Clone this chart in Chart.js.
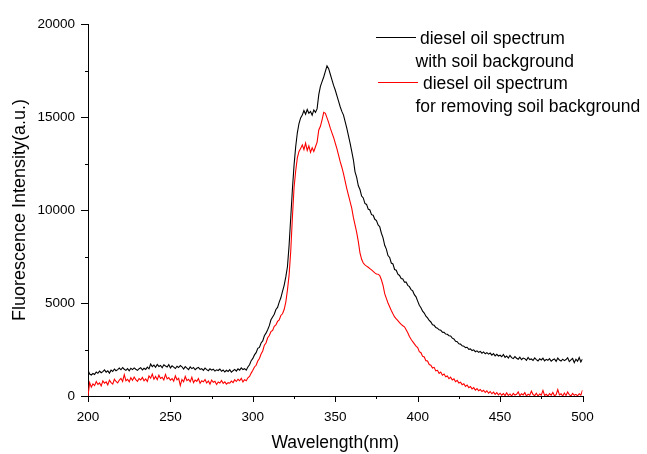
<!DOCTYPE html>
<html lang="en">
<head>
  <meta charset="UTF-8">
  <title>Diesel oil fluorescence spectrum</title>
  <script src="https://cdn.jsdelivr.net/npm/chart.js"></script>
  <style>
    body {
      margin: 0;
      background: #fff;
      font-family: 'Liberation Sans', Arial, sans-serif;
    }
    #wrap {
      width: 647px;
      height: 454px;
    }
  </style>
</head>
<body>
  <div id="wrap">
    <canvas id="spectrum" width="647" height="454"></canvas>
  </div>

  <script>
    // sampling grid, 1 nm from 200 to 500
    const wavelengths = Array.from({ length: 301 }, (_, i) => 200 + i);

    // diesel oil spectrum with soil background (one row = 10 nm)
    const withSoil = [
      1380, 1180, 1130, 1210, 1160, 1290, 1220, 1340, 1250, 1310,
      1400, 1280, 1350, 1230, 1390, 1320, 1450, 1360, 1420, 1500,
      1410, 1530, 1440, 1380, 1470, 1350, 1490, 1420, 1510, 1440,
      1380, 1470, 1520, 1400, 1490, 1430, 1550, 1460, 1720, 1580,
      1660, 1540, 1700, 1590, 1640, 1520, 1680, 1610, 1560, 1690,
      1510, 1620, 1550, 1480, 1600, 1530, 1640, 1570, 1450, 1580,
      1500, 1420, 1560, 1470, 1530, 1410, 1490, 1540, 1430, 1470,
      1380, 1500, 1420, 1360, 1460, 1390, 1440, 1340, 1410, 1370,
      1450, 1330, 1400, 1290, 1380, 1320, 1420, 1280, 1360, 1430,
      1340, 1460, 1390, 1510, 1420, 1470, 1390, 1560, 1680, 1900,
      2020, 2210, 2330, 2560, 2610, 2850, 2960, 3240, 3380, 3560,
      3780, 4100, 4250, 4400, 4650, 4760, 5050, 5280, 5620, 5950,
      6400, 6950, 8100, 9600, 11100, 12400, 13400, 14150, 14650, 14950,
      15100, 15350, 15150, 15400, 15200, 15300, 15100, 15380, 15250, 15450,
      16200, 16650, 16900, 17150, 17450, 17750, 17600, 17300, 17000, 16700,
      16450, 16150, 15850, 15550, 15300, 15100, 14750, 14400, 14000, 13600,
      13150, 12700, 12050, 11750, 11300, 11100, 10750, 10650, 10350, 10300,
      10050, 10000, 9750, 9720, 9500, 9430, 9200, 9100, 8750, 8500,
      8100, 7900, 7550, 7450, 7150, 7100, 6800, 6760, 6550, 6480,
      6320, 6290, 6120, 6130, 5950, 5880, 5720, 5650, 5450, 5330,
      5100, 4880, 4750, 4560, 4460, 4290, 4200, 4060, 3980, 3830,
      3800, 3680, 3650, 3560, 3540, 3430, 3420, 3330, 3320, 3240,
      3230, 3110, 3070, 2940, 2920, 2810, 2790, 2700, 2680, 2600,
      2620, 2510, 2530, 2440, 2480, 2380, 2430, 2350, 2400, 2300,
      2370, 2270, 2330, 2250, 2310, 2200, 2280, 2160, 2240, 2150,
      2190, 2110, 2230, 2080, 2150, 2040, 2180, 2060, 2010, 2120,
      2030, 1980, 2090, 1950, 2040, 2010, 1920, 2070, 1960, 1990,
      1910, 2050, 1960, 1880, 2000, 1940, 2030, 1890, 1970, 1920,
      2010, 1870, 1950, 1990, 1860, 2040, 1930, 1880, 1980, 1900,
      1960, 2060, 1850, 1940, 2020, 1790, 1980, 1870, 2070, 1830,
      1990
    ];

    // diesel oil spectrum after removing the soil background
    const soilRemoved = [
      0, 720, 480, 650, 560, 780, 620, 700, 540, 810,
      690, 760, 600, 850, 720, 640, 900, 780, 700, 860,
      950, 780, 1150, 820, 900, 760, 980, 840, 1020, 880,
      790, 940, 860, 1000, 820, 920, 780, 1080, 960, 1180,
      900, 1050, 880, 1120, 940, 1010, 860, 1160, 920, 990,
      850, 940, 800, 1080, 870, 950, 560, 890, 760, 1050,
      830, 900, 760, 1010, 720, 860, 790, 940, 680, 820,
      760, 880, 700, 810, 640, 860, 740, 790, 620, 750,
      700, 830, 680, 760, 640, 720, 690, 800, 720, 880,
      780, 900, 820, 950, 760, 880, 820, 980, 1050, 1230,
      1380, 1560, 1650, 1880, 2020, 2260, 2420, 2730, 2850, 3130,
      3250, 3460, 3530, 3750, 3820, 4010, 4090, 4330, 4420, 4650,
      5050, 5700, 6500, 7800, 9600, 11200, 12100, 12800, 13150, 13300,
      13500, 13250, 13600, 13200, 13450, 13100, 13350, 13150, 13400, 13650,
      14300, 14500, 14850, 15250, 15200, 14950, 14700, 14400, 14150, 13900,
      13600, 13300, 12950, 12600, 12300, 11950, 11550, 11150, 10800, 10450,
      10100, 9600, 9200, 8800, 8300, 7700, 7350, 7150, 7050, 6980,
      6920, 6850, 6780, 6700, 6620, 6560, 6550, 6480, 6250, 5950,
      5500, 5250, 5000, 4800, 4600, 4420, 4250, 4150, 4050, 3950,
      3850, 3780, 3720, 3560, 3400, 3200, 3050, 2920, 2800, 2680,
      2600, 2380, 2330, 2130, 2100, 1900, 1880, 1690, 1660, 1500,
      1540, 1350, 1380, 1220, 1290, 1120, 1180, 1030, 1080, 930,
      1010, 860, 920, 770, 840, 700, 740, 610, 660, 520,
      590, 450, 510, 380, 450, 320, 400, 280, 350, 240,
      310, 190, 280, 150, 240, 120, 210, 90, 180, 60,
      150, 40, 130, 20, 170, 30, 110, 0, 140, 50,
      90, 220, 10, 120, 60, 180, 0, 100, 40, 260,
      80, 20, 150, 0, 110, 50, 300, 30, 90, 0,
      130, 40, 190, 10, 70, 350, 60, 120, 0, 160,
      30, 220, 70, 0, 140, 40, 90, 10, 120, 50,
      320
    ];

    const seriesLabels = [
      ['diesel oil spectrum', 'with soil background'],
      ['diesel oil spectrum', 'for removing soil background']
    ];

    const xMajor = 50, xMinor = 25;
    const yMajor = 5000, yMinor = 2500;

    const FONT = "'Liberation Sans', Arial, sans-serif";

    const toPoints = ys => ys.map((y, i) => ({ x: wavelengths[i], y: y }));

    // outward tick marks: long for major, short for minor
    const tickMarks = {
      id: 'tickMarks',
      afterDraw(chart) {
        const ctx = chart.ctx;
        const area = chart.chartArea;
        const xs = chart.scales.x, ys = chart.scales.y;
        ctx.save();
        ctx.strokeStyle = '#000';
        ctx.lineWidth = 1;
        ctx.beginPath();
        xs.ticks.forEach(t => {
          const px = Math.round(xs.getPixelForValue(t.value)) + 0.5;
          const len = t.value % xMajor === 0 ? 6 : 3;
          ctx.moveTo(px, area.bottom);
          ctx.lineTo(px, area.bottom + len);
        });
        ys.ticks.forEach(t => {
          const py = Math.round(ys.getPixelForValue(t.value)) + 0.5;
          const len = t.value % yMajor === 0 ? 7 : 3;
          ctx.moveTo(area.left, py);
          ctx.lineTo(area.left - len, py);
        });
        ctx.stroke();
        ctx.restore();
      }
    };

    // legend: short line sample, then two text lines per series
    const spectrumLegend = {
      id: 'spectrumLegend',
      afterDraw(chart) {
        const ctx = chart.ctx;
        ctx.save();
        ctx.font = '17.5px ' + FONT;
        ctx.fillStyle = '#000';
        ctx.textBaseline = 'alphabetic';
        const rows = [
          { lineX: 376, textX: 420, base: 44 },
          { lineX: 378, textX: 423, base: 89 }
        ];
        chart.data.datasets.forEach((ds, i) => {
          const r = rows[i];
          ctx.strokeStyle = ds.borderColor;
          ctx.lineWidth = 1;
          ctx.beginPath();
          ctx.moveTo(r.lineX, r.base - 6.5);
          ctx.lineTo(r.lineX + 40, r.base - 6.5);
          ctx.stroke();
          ctx.fillText(ds.label[0], r.textX, r.base);
          ctx.fillText(ds.label[1], 415.5, r.base + 23);
        });
        ctx.restore();
      }
    };

    new Chart(document.getElementById('spectrum'), {
      type: 'line',
      data: {
        datasets: [
          {
            label: seriesLabels[0],
            data: toPoints(withSoil),
            borderColor: '#000000',
            borderWidth: 1.1,
            pointRadius: 0,
            tension: 0
          },
          {
            label: seriesLabels[1],
            data: toPoints(soilRemoved),
            borderColor: '#ff0000',
            borderWidth: 1.1,
            pointRadius: 0,
            tension: 0
          }
        ]
      },
      options: {
        responsive: false,
        animation: false,
        layout: { padding: { top: 24, right: 64.5, bottom: 0, left: 0 } },
        plugins: {
          legend: { display: false },
          tooltip: { enabled: false }
        },
        scales: {
          x: {
            type: 'linear',
            min: 200,
            max: 500,
            afterFit: s => { s.height = 58; },
            border: { display: true, color: '#000', width: 1 },
            grid: { drawOnChartArea: false, drawTicks: true, tickLength: 6, tickColor: 'rgba(0,0,0,0)' },
            ticks: {
              stepSize: xMinor,
              autoSkip: false,
              maxRotation: 0,
              padding: 7,
              color: '#000',
              font: { family: FONT, size: 13.5 },
              callback: v => (v % xMajor === 0 ? v : '')
            },
            title: {
              display: true,
              text: 'Wavelength(nm)',
              color: '#000',
              font: { family: FONT, size: 17.5 },
              padding: { top: 0, bottom: 0 }
            }
          },
          y: {
            min: 0,
            max: 20000,
            afterFit: s => { s.width = 88; },
            border: { display: true, color: '#000', width: 1 },
            grid: { drawOnChartArea: false, drawTicks: true, tickLength: 7, tickColor: 'rgba(0,0,0,0)' },
            ticks: {
              stepSize: yMinor,
              autoSkip: false,
              padding: 6,
              color: '#000',
              font: { family: FONT, size: 13.5 },
              callback: v => (v % yMajor === 0 ? v : '')
            },
            title: {
              display: true,
              text: 'Fluorescence Intensity(a.u.)',
              color: '#000',
              font: { family: FONT, size: 18 },
              padding: { top: 9, bottom: 0 }
            }
          }
        }
      },
      plugins: [tickMarks, spectrumLegend]
    });
  </script>
</body>
</html>
